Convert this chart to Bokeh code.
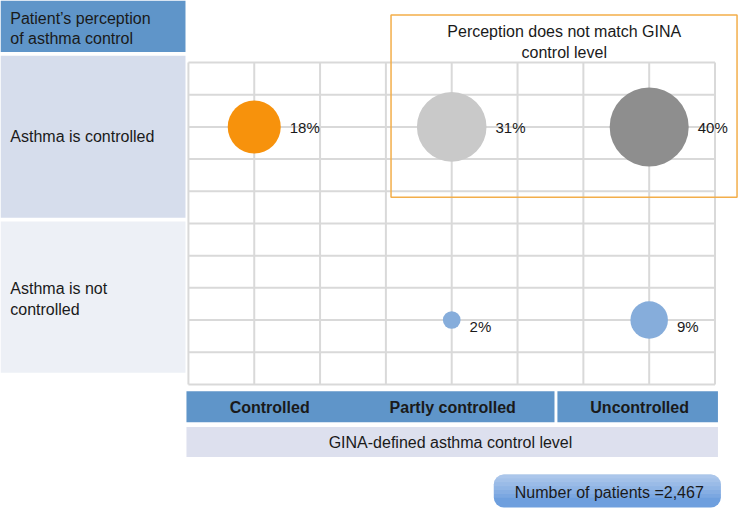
import numpy as np
from bokeh.plotting import figure
from bokeh.models import ColumnDataSource, Range1d, BoxAnnotation, Label
from bokeh.core.properties import value
from bokeh.embed import file_html
from bokeh.resources import INLINE

# ---------------- data ----------------
gina_levels = ["Controlled", "Partly controlled", "Uncontrolled"]
perception_levels = ["Asthma is controlled", "Asthma is not controlled"]
bubble_gina = ["Controlled", "Partly controlled", "Uncontrolled",
               "Partly controlled", "Uncontrolled"]
bubble_perception = ["Asthma is controlled", "Asthma is controlled",
                     "Asthma is controlled", "Asthma is not controlled",
                     "Asthma is not controlled"]
bubble_pct = [18, 31, 40, 2, 9]
n_patients = "2,467"
header_text = "Patient\u2019s perception\nof asthma control"
mismatch_text = "Perception does not match GINA\ncontrol level"
x_title = "GINA-defined asthma  control level"

# ---------------- styles ----------------
bubble_colors = ["#F7920C", "#C9C9C9", "#8E8E8E", "#86ADDB", "#86ADDB"]
FONT_NAME = "Liberation Sans"
FONT = value(FONT_NAME)
BLUE = "#5F95C9"
GRID = "#D9D9D9"

# layout: grid of 8 columns x 10 rows; GINA levels at columns 1,4,7; perception rows at 8 and 2
N_COLS, N_ROWS = 8, 10
col_pos = {g: 1 + 3 * i for i, g in enumerate(gina_levels)}
row_pos = {perception_levels[0]: 8, perception_levels[1]: 2}

# reference-pixel helpers for the decorative layout
GL, GR, GT, GB = 192, 730, 64, 396
def X(px):
    return (px - GL) * N_COLS / (GR - GL)
def Y(py):
    return (GB - py) * N_ROWS / (GB - GT)

W, H = 738, 508
p = figure(width=W, height=H, x_range=Range1d(X(0), X(754)), y_range=Range1d(Y(524), Y(0)),
           x_axis_type=None, y_axis_type=None, output_backend="svg", toolbar_location=None,
           min_border=0, outline_line_color=None, background_fill_color="white")
p.grid.visible = False

# side panels
p.quad(left=[X(0)], right=[X(189)], top=[Y(0)], bottom=[Y(53)], fill_color=BLUE, line_color=None)
p.quad(left=[X(0)], right=[X(189)], top=[Y(57)], bottom=[Y(224)], fill_color="#D6DDEC", line_color=None)
p.quad(left=[X(0)], right=[X(189)], top=[Y(228)], bottom=[Y(384)], fill_color="#EDF0F6", line_color=None)

# bottom category bars
p.quad(left=[X(190), X(569)], right=[X(566), X(733)], top=[Y(403)] * 2, bottom=[Y(435)] * 2,
       fill_color=BLUE, line_color=None)
p.quad(left=[X(190)], right=[X(733)], top=[Y(440)], bottom=[Y(471)], fill_color="#DDE0EE", line_color=None)

# grid
xs = np.arange(0, N_COLS + 1)
ys = np.arange(0, N_ROWS + 1)
p.segment(x0=xs, y0=[0] * len(xs), x1=xs, y1=[N_ROWS] * len(xs), line_color=GRID, line_width=2)
p.segment(x0=[0] * len(ys), y0=ys, x1=[N_COLS] * len(ys), y1=ys, line_color=GRID, line_width=2)

# mismatch box
p.quad(left=[X(399)], right=[X(752.5)], top=[Y(15)], bottom=[Y(203)], fill_color=None,
       line_color="#F3AE4A", line_width=1.5)

# bubbles
sizes = [12.5 * np.sqrt(v) for v in bubble_pct]
src = ColumnDataSource(dict(
    x=[col_pos[g] for g in bubble_gina],
    y=[row_pos[r] for r in bubble_perception],
    size=sizes,
    color=bubble_colors,
    label=[f"{v}%" for v in bubble_pct],
    xoff=[s / 2 + 9 for s in sizes],
    yoff=[1 if r == perception_levels[0] else 6 for r in bubble_perception],
))
p.scatter(x="x", y="y", size="size", fill_color="color", line_color=None, source=src)
p.text(x="x", y="y", text="label", x_offset="xoff", y_offset="yoff", source=src,
       text_font=FONT, text_font_size="15px", text_baseline="middle", text_align="left",
       text_color="#1A1A1A")

# texts
def txt(x, y, s, align="left", size="16px", style="normal"):
    p.text(x=[x], y=[y], text=[s], text_font=FONT, text_font_size=size, text_font_style=style,
           text_align=align, text_baseline="middle", text_color="#1A1A1A", text_line_height=1.2)

txt(X(10), Y(29), header_text)
txt(X(10), Y(140), perception_levels[0])
txt(X(10), Y(308), "Asthma is not\ncontrolled")
txt(X(576), Y(43), mismatch_text, align="center")
txt(X(275), Y(420), gina_levels[0], align="center", style="bold")
txt(X(462), Y(420), gina_levels[1], align="center", style="bold")
txt(X(653), Y(420), gina_levels[2], align="center", style="bold")
txt(X(462), Y(456), x_title, align="center")

# number of patients box (rounded, vertical gradient approximation)
bl, br, bt, bb = X(504), X(736), Y(489), Y(523)
p.add_layout(BoxAnnotation(left=bl, right=br, top=bt, bottom=bb, fill_color="#6E9FDE",
                           fill_alpha=1.0, line_color=None, border_radius=10))
steps = 6
for i in range(steps):
    frac = 1 - i / steps
    bot_px = 489 + (34 - 10) * frac
    p.add_layout(BoxAnnotation(left=bl, right=br, top=bt, bottom=Y(bot_px), fill_color="white",
                               fill_alpha=0.09, line_color=None, border_radius=(10, 10, 0, 0)))
p.add_layout(Label(x=X(622), y=Y(508), text=f"Number of patients ={n_patients}", text_font=FONT_NAME,
                   text_font_size="16px", text_align="center", text_baseline="middle",
                   text_color="#1A1A1A"))

open("out.html", "w").write(file_html(p, INLINE))
